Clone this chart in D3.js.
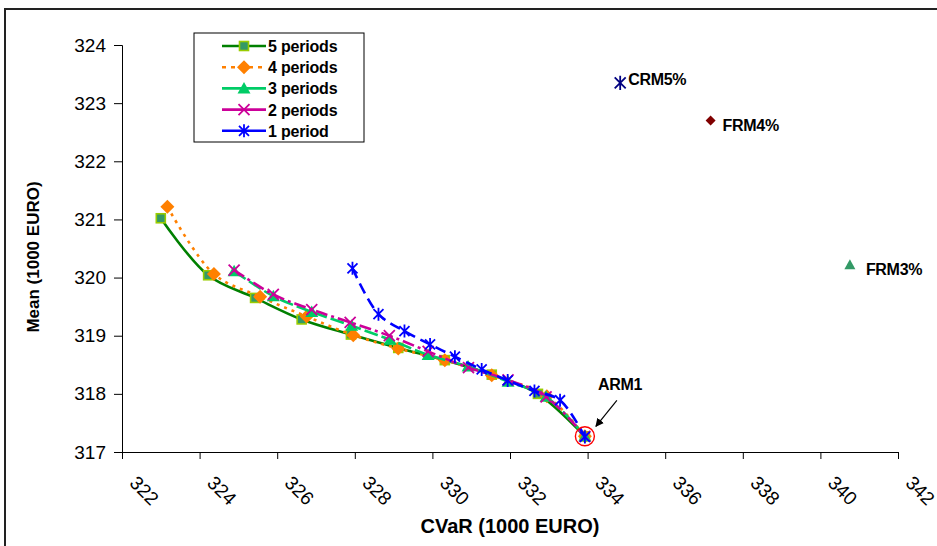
<!DOCTYPE html>
<html>
<head>
<meta charset="utf-8">
<script src="https://cdn.jsdelivr.net/npm/d3@7"></script>
<style>
  body { margin: 0; background: #fff; }
  text { font-family: "Liberation Sans", Arial, sans-serif; }
</style>
</head>
<body>
<script>
// Efficient frontiers
const seriesNames = ["5 periods", "4 periods", "3 periods", "2 periods", "1 period"];
const cvar5 = [323.00, 324.22, 325.43, 326.63, 327.90, 329.12, 330.32, 331.53, 332.72, 333.93];
const mean5 = [321.02, 320.04, 319.65, 319.28, 319.02, 318.79, 318.58, 318.33, 318.00, 317.27];
const cvar4 = [323.17, 324.37, 325.56, 326.76, 327.96, 329.12, 330.32, 331.53, 332.95, 333.93];
const mean4 = [321.22, 320.06, 319.67, 319.33, 319.01, 318.78, 318.58, 318.32, 317.96, 317.27];
const cvar3 = [324.89, 325.90, 326.89, 327.92, 328.91, 329.89, 330.92, 331.95, 332.93, 333.93];
const mean3 = [320.11, 319.68, 319.41, 319.17, 318.93, 318.67, 318.47, 318.21, 317.95, 317.27];
const cvar2 = [324.89, 325.90, 326.89, 327.88, 328.89, 329.89, 330.93, 331.95, 332.93, 333.93];
const mean2 = [320.13, 319.71, 319.45, 319.23, 319.00, 318.73, 318.45, 318.24, 317.95, 317.27];
const cvar1 = [327.94, 328.61, 329.28, 329.94, 330.58, 331.27, 331.94, 332.63, 333.29, 333.93];
const mean1 = [320.16, 319.37, 319.08, 318.85, 318.64, 318.42, 318.23, 318.05, 317.89, 317.26];

// single policies
const pointNames = ["CRM5%", "FRM4%", "FRM3%"];
const pointCvar = [334.84, 337.17, 340.76];
const pointMean = [323.35, 322.70, 320.22];

const armName = "ARM1";
const armCvar = 333.93;
const armMean = 317.27;

const xTicks = [322, 324, 326, 328, 330, 332, 334, 336, 338, 340, 342];
const yTicks = [317, 318, 319, 320, 321, 322, 323, 324];

const w = 937, h = 546;

const svg = d3.select("body").append("svg")
  .attr("width", w)
  .attr("height", h);

// chart area frame
svg.append("rect")
  .attr("x", 5).attr("y", 9)
  .attr("width", 940).attr("height", 545)
  .attr("fill", "none")
  .attr("stroke", "#222")
  .attr("stroke-width", 2);

const x = d3.scaleLinear().domain([322, 342]).range([122, 898]);
const y = d3.scaleLinear().domain([317, 324]).range([452, 45]);

// axes
const yAxis = svg.append("g").attr("transform", "translate(122,0)")
  .call(d3.axisLeft(y).tickValues(yTicks).tickSize(8).tickPadding(8).tickFormat(d3.format("d")));
yAxis.selectAll("text").attr("font-size", "19px").attr("fill", "#000")
  .attr("font-family", "Liberation Sans, Arial, sans-serif");

const xAxis = svg.append("g").attr("transform", "translate(0,452)")
  .call(d3.axisBottom(x).tickValues(xTicks).tickSize(7).tickFormat(d3.format("d")));
xAxis.selectAll("text")
  .attr("font-size", "19px").attr("fill", "#000")
  .attr("font-family", "Liberation Sans, Arial, sans-serif")
  .attr("text-anchor", "start")
  .attr("y", 0).attr("dy", "0.75em")
  .attr("transform", "translate(16,22) rotate(45)");
svg.selectAll(".domain, .tick line").attr("stroke", "#000");

// axis titles
svg.append("text")
  .attr("x", 510).attr("y", 533)
  .attr("text-anchor", "middle")
  .attr("font-size", "20px").attr("font-weight", "bold")
  .text("CVaR (1000 EURO)");

svg.append("text")
  .attr("transform", "translate(39,257) rotate(-90)")
  .attr("text-anchor", "middle")
  .attr("font-size", "17px").attr("font-weight", "bold")
  .text("Mean (1000 EURO)");

// marker shapes
const starPath = s => `M${-s},${-s}L${s},${s}M${-s},${s}L${s},${-s}M0,${-s * 1.3}L0,${s * 1.3}`;
const crossPath = s => `M${-s},${-s}L${s},${s}M${-s},${s}L${s},${-s}`;

const styles = [
  { color: "#008000", dash: null, marker: "square" },
  { color: "#FF8000", dash: "3,5", marker: "diamond" },
  { color: "#00CC66", dash: "14,4", marker: "triangle" },
  { color: "#CC0099", dash: "12,4,3,4", marker: "cross" },
  { color: "#0000FF", dash: "11,6", marker: "star" }
];

function drawMarker(g, kind, cx, cy, color) {
  if (kind === "square") {
    g.append("rect").attr("x", cx - 4.5).attr("y", cy - 4.5).attr("width", 9).attr("height", 9)
      .attr("fill", "#339966").attr("stroke", "#99CC00").attr("stroke-width", 1.6);
  } else if (kind === "diamond") {
    g.append("path").attr("d", `M${cx},${cy - 7}L${cx + 7},${cy}L${cx},${cy + 7}L${cx - 7},${cy}Z`)
      .attr("fill", color);
  } else if (kind === "triangle") {
    g.append("path").attr("d", `M${cx},${cy - 6.5}L${cx + 6.5},${cy + 5}L${cx - 6.5},${cy + 5}Z`)
      .attr("fill", color);
  } else if (kind === "cross") {
    g.append("path").attr("transform", `translate(${cx},${cy})`).attr("d", crossPath(5.5))
      .attr("stroke", color).attr("stroke-width", 1.8).attr("fill", "none");
  } else {
    g.append("path").attr("transform", `translate(${cx},${cy})`).attr("d", starPath(5))
      .attr("stroke", color).attr("stroke-width", 1.8).attr("fill", "none");
  }
}

const allX = [cvar5, cvar4, cvar3, cvar2, cvar1];
const allY = [mean5, mean4, mean3, mean2, mean1];

const line = d3.line()
  .x(d => x(d[0]))
  .y(d => y(d[1]))
  .curve(d3.curveCatmullRom.alpha(0.5));

allX.forEach((xs, i) => {
  const pts = xs.map((v, j) => [v, allY[i][j]]);
  const st = styles[i];
  const g = svg.append("g");
  g.append("path")
    .attr("d", line(pts))
    .attr("fill", "none")
    .attr("stroke", st.color)
    .attr("stroke-width", 2.6)
    .attr("stroke-dasharray", st.dash);
  pts.forEach(p => drawMarker(g, st.marker, x(p[0]), y(p[1]), st.color));
});

// single policies
const ptColors = ["#000080", "#800000", "#339966"];
pointNames.forEach((name, i) => {
  const cx = x(pointCvar[i]), cy = y(pointMean[i]);
  const g = svg.append("g");
  if (i === 0) {
    g.append("path").attr("transform", `translate(${cx},${cy})`).attr("d", starPath(5.5))
      .attr("stroke", ptColors[i]).attr("stroke-width", 1.8).attr("fill", "none");
  } else if (i === 1) {
    g.append("path").attr("d", `M${cx},${cy - 5}L${cx + 5},${cy}L${cx},${cy + 5}L${cx - 5},${cy}Z`)
      .attr("fill", ptColors[i]);
  } else {
    g.append("path").attr("d", `M${cx},${cy - 5.5}L${cx + 5.5},${cy + 4.5}L${cx - 5.5},${cy + 4.5}Z`)
      .attr("fill", ptColors[i]);
  }
  g.append("text")
    .attr("x", cx + (i === 0 ? 8 : (i === 1 ? 12 : 16)))
    .attr("y", cy + (i === 0 ? 2 : 10))
    .attr("font-size", "16px").attr("font-weight", "bold")
    .attr("letter-spacing", "-0.3px")
    .text(name);
});

// ARM1 annotation
const ax = x(armCvar), ay = y(armMean);
svg.append("circle").attr("cx", ax).attr("cy", ay).attr("r", 9.5)
  .attr("fill", "none").attr("stroke", "#FF0000").attr("stroke-width", 1.4);
svg.append("defs").append("marker")
  .attr("id", "arrow").attr("viewBox", "0 0 10 10")
  .attr("refX", 9).attr("refY", 5)
  .attr("markerWidth", 7).attr("markerHeight", 7)
  .attr("orient", "auto")
  .append("path").attr("d", "M0,0L10,5L0,10Z").attr("fill", "#000");
svg.append("line")
  .attr("x1", ax + 32).attr("y1", ay - 36)
  .attr("x2", ax + 11).attr("y2", ay - 10)
  .attr("stroke", "#000").attr("stroke-width", 1.2)
  .attr("marker-end", "url(#arrow)");
svg.append("text")
  .attr("x", ax + 13).attr("y", ay - 46)
  .attr("font-size", "16px").attr("font-weight", "bold")
  .attr("letter-spacing", "-0.3px")
  .text(armName);

// legend
const legend = svg.append("g");
legend.append("rect")
  .attr("x", 194).attr("y", 33).attr("width", 170).attr("height", 109)
  .attr("fill", "#fff").attr("stroke", "#000").attr("stroke-width", 1);
seriesNames.forEach((name, i) => {
  const ly = 46 + i * 21.2;
  const st = styles[i];
  legend.append("line")
    .attr("x1", 222).attr("x2", 266).attr("y1", ly).attr("y2", ly)
    .attr("stroke", st.color).attr("stroke-width", 2.6)
    .attr("stroke-dasharray", st.dash === "3,5" ? "4,5" : null);
  drawMarker(legend, st.marker, 244, ly, st.color);
  legend.append("text")
    .attr("x", 268).attr("y", ly + 6)
    .attr("font-size", "16px").attr("font-weight", "bold")
    .attr("letter-spacing", "-0.2px")
    .text(name);
});
</script>
</body>
</html>
